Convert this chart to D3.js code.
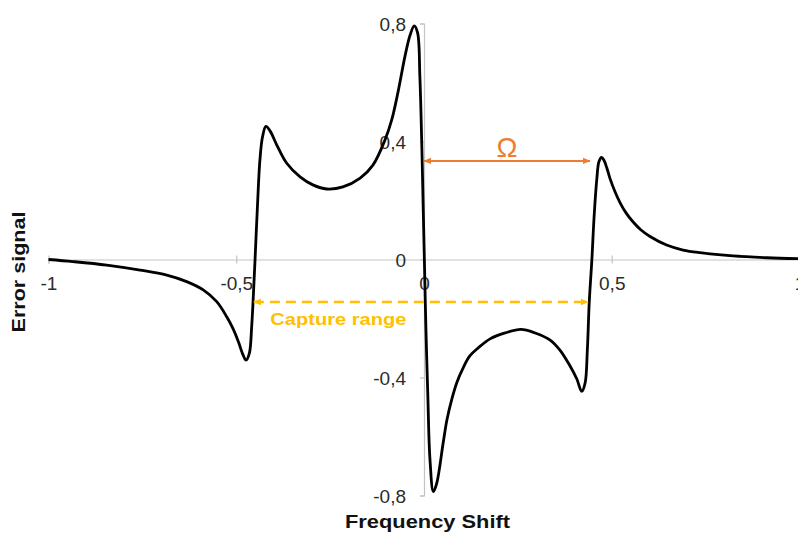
<!DOCTYPE html>
<html>
<head>
<meta charset="utf-8">
<script src="https://cdn.jsdelivr.net/npm/d3@7"></script>
<style>
  html, body { margin: 0; padding: 0; background: #fff; }
  svg { display: block; }
</style>
</head>
<body>
<svg id="chart" width="798" height="533"></svg>
<script>
// Error signal versus frequency shift (sampled trace)
const shiftValues = [
  -1.000, -0.935, -0.845, -0.756, -0.685, -0.632, -0.588, -0.552, -0.525, -0.508,
  -0.494, -0.483, -0.474, -0.465, -0.459, -0.455, -0.450, -0.444, -0.437, -0.430,
  -0.421, -0.410, -0.392, -0.366, -0.330, -0.296, -0.259, -0.216, -0.170, -0.136,
  -0.104, -0.086, -0.068, -0.051, -0.037, -0.026, -0.017, -0.011, -0.006, -0.002,
   0.001,  0.005,  0.010,  0.016,  0.025,  0.034,  0.051,  0.061,  0.075,  0.088,
   0.104,  0.122,  0.144,  0.176,  0.216,  0.258,  0.296,  0.336,  0.362,  0.389,
   0.407,  0.420,  0.429,  0.435,  0.440,  0.447,  0.453,  0.460,  0.466,  0.473,
   0.479,  0.487,  0.495,  0.509,  0.522,  0.538,  0.557,  0.578,  0.602,  0.646,
   0.690,  0.735,  0.823,  0.913,  1.000
];
const errorValues = [
   0.000, -0.007, -0.019, -0.036, -0.053, -0.075, -0.103, -0.143, -0.195, -0.236,
  -0.280, -0.320, -0.341, -0.317, -0.229, -0.137, -0.002,  0.168,  0.337,  0.416,
   0.451,  0.436,  0.388,  0.327,  0.280,  0.253,  0.239,  0.246,  0.276,  0.320,
   0.405,  0.473,  0.575,  0.687,  0.761,  0.792,  0.768,  0.620,  0.395,  0.168,
  -0.002, -0.228, -0.453, -0.680, -0.787, -0.758, -0.622, -0.544, -0.469, -0.415,
  -0.368, -0.327, -0.300, -0.269, -0.249, -0.237, -0.249, -0.273, -0.307, -0.361,
  -0.405, -0.447, -0.419, -0.307, -0.147, -0.002,  0.145,  0.269,  0.332,  0.346,
   0.337,  0.310,  0.276,  0.229,  0.193,  0.158,  0.127,  0.100,  0.078,  0.049,
   0.032,  0.023,  0.012,  0.006,  0.003
];

const xTickValues = [-1, -0.5, 0, 0.5, 1];
const xTickLabels = ["-1", "-0,5", "0", "0,5", "1"];
const yTickValues = [-0.8, -0.4, 0, 0.4, 0.8];
const yTickLabels = ["-0,8", "-0,4", "0", "0,4", "0,8"];

// Annotations (in data units)
const omegaShift = 0.442;
const omegaLevel = 0.334;
const captureStart = -0.453;
const captureEnd = 0.437;
const captureLevel = -0.144;
const captureLabelShift = -0.228;

const svg = d3.select("#chart");
const x = d3.scaleLinear().domain([-1, 1]).range([48.5, 799.5]);
const y = d3.scaleLinear().domain([-0.8, 0.8]).range([495.5, 23.5]);

const axisColor = "#c4c4c4";
const labelColor = "#2b2b2b";
const fontFamily = "'Liberation Sans', Arial, sans-serif";

// Arrowheads
const defs = svg.append("defs");
function arrowMarker(id, color) {
  defs.append("marker")
    .attr("id", id)
    .attr("viewBox", "0 0 10 10")
    .attr("refX", 9).attr("refY", 5)
    .attr("markerUnits", "userSpaceOnUse")
    .attr("markerWidth", 8).attr("markerHeight", 8)
    .attr("orient", "auto-start-reverse")
    .append("path")
    .attr("d", "M0,1 L10,5 L0,9 Z")
    .attr("fill", color);
}
arrowMarker("arrow-orange", "#ED7D31");
arrowMarker("arrow-gold", "#FFC000");

// X axis through zero
const xAxis = svg.append("g")
  .attr("transform", `translate(0,${y(0)})`)
  .call(d3.axisBottom(x).tickValues(xTickValues).tickSize(4).tickFormat((d, i) => xTickLabels[i]));
xAxis.select(".domain").attr("stroke", axisColor).attr("stroke-width", 1.2);
xAxis.selectAll(".tick line").attr("stroke", axisColor).attr("stroke-width", 1.2).attr("y1", -4).attr("y2", 4);
xAxis.selectAll(".tick text")
  .attr("y", 23.5).attr("dy", "0.35em")
  .attr("fill", labelColor)
  .style("font-family", fontFamily).style("font-size", "19px");

// Y axis through zero
const yAxis = svg.append("g")
  .attr("transform", `translate(${x(0)},0)`)
  .call(d3.axisLeft(y).tickValues(yTickValues).tickSize(4).tickFormat((d, i) => yTickLabels[i]));
yAxis.select(".domain").attr("stroke", axisColor).attr("stroke-width", 1.2);
yAxis.selectAll(".tick line").attr("stroke", axisColor).attr("stroke-width", 1.2);
yAxis.selectAll(".tick text")
  .attr("x", -18).attr("dy", "0.35em")
  .attr("fill", labelColor)
  .style("font-family", fontFamily).style("font-size", "19px");

// Error signal trace
const points = shiftValues.map((s, i) => [s, errorValues[i]]);
svg.append("path")
  .datum(points)
  .attr("fill", "none")
  .attr("stroke", "#000")
  .attr("stroke-width", 2.8)
  .attr("stroke-linejoin", "round")
  .attr("d", d3.line().x(d => x(d[0])).y(d => y(d[1])).curve(d3.curveCatmullRom.alpha(0.5)));

// Sideband spacing arrow
svg.append("line")
  .attr("x1", x(0)).attr("x2", x(omegaShift))
  .attr("y1", y(omegaLevel)).attr("y2", y(omegaLevel))
  .attr("stroke", "#ED7D31").attr("stroke-width", 2)
  .attr("marker-start", "url(#arrow-orange)")
  .attr("marker-end", "url(#arrow-orange)");
svg.append("text")
  .attr("x", x(omegaShift / 2)).attr("y", y(omegaLevel) - 4)
  .attr("text-anchor", "middle")
  .attr("fill", "#ED7D31")
  .style("font-family", fontFamily).style("font-size", "28px")
  .text("Ω");

// Capture range arrow
svg.append("line")
  .attr("x1", x(captureStart)).attr("x2", x(captureEnd))
  .attr("y1", y(captureLevel)).attr("y2", y(captureLevel))
  .attr("stroke", "#FFC000").attr("stroke-width", 2.5)
  .attr("stroke-dasharray", "10,6")
  .attr("marker-start", "url(#arrow-gold)")
  .attr("marker-end", "url(#arrow-gold)");
svg.append("text")
  .attr("x", x(captureLabelShift)).attr("y", y(captureLevel) + 23)
  .attr("text-anchor", "middle")
  .attr("fill", "#FFC000")
  .attr("textLength", 136).attr("lengthAdjust", "spacingAndGlyphs")
  .style("font-family", fontFamily).style("font-size", "17px").style("font-weight", "bold")
  .text("Capture range");

// Axis titles
svg.append("text")
  .attr("x", 427.5).attr("y", 528)
  .attr("text-anchor", "middle")
  .attr("fill", "#111")
  .attr("textLength", 165).attr("lengthAdjust", "spacingAndGlyphs")
  .style("font-family", fontFamily).style("font-size", "19px").style("font-weight", "bold")
  .text("Frequency Shift");
svg.append("text")
  .attr("transform", "translate(25,272) rotate(-90)")
  .attr("text-anchor", "middle")
  .attr("fill", "#111")
  .attr("textLength", 121).attr("lengthAdjust", "spacingAndGlyphs")
  .style("font-family", fontFamily).style("font-size", "19px").style("font-weight", "bold")
  .text("Error signal");
</script>
</body>
</html>
